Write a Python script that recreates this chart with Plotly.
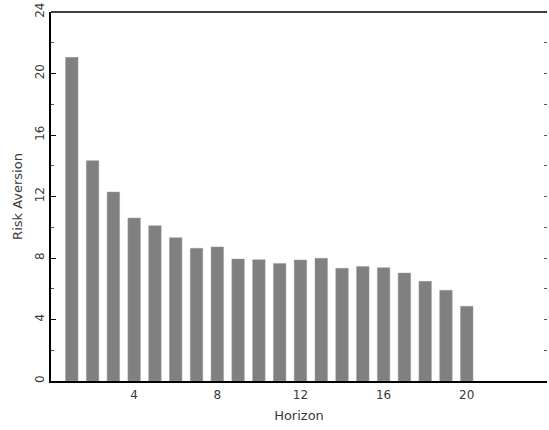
import plotly.graph_objects as go

horizon = list(range(1, 21))
risk_aversion = [21.05, 14.33, 12.29, 10.6, 10.1, 9.32, 8.63, 8.72, 7.93, 7.89,
                 7.65, 7.87, 7.98, 7.33, 7.44, 7.37, 7.02, 6.48, 5.90, 4.86]
x_ticks = [4, 8, 12, 16, 20]
y_ticks = [0, 4, 8, 12, 16, 20, 24]

font = dict(family="DejaVu Sans", size=12, color="#3a3a3a")

fig = go.Figure()
fig.add_trace(go.Bar(x=horizon, y=risk_aversion, width=0.6,
                     marker=dict(color="#808080", line=dict(color="#9a9a9a", width=0.5)),
                     showlegend=False))
fig.add_trace(go.Scatter(x=[0], y=[0], yaxis="y2", mode="markers",
                         marker=dict(opacity=0), showlegend=False, hoverinfo="skip"))

fig.update_layout(
    width=549, height=430,
    margin=dict(l=51, r=2, t=12, b=49),
    plot_bgcolor="white", paper_bgcolor="white",
    font=font,
    xaxis=dict(range=[0, 23.86], tickvals=x_ticks, ticks="", showline=True,
               linecolor="black", linewidth=1.5, showgrid=False, zeroline=False,
               automargin=False, ticklabelstandoff=2,
               title=dict(text="Horizon", standoff=10, font=dict(size=13))),
    yaxis=dict(range=[0, 24], tickvals=y_ticks, ticks="inside", ticklen=5,
               tickcolor="black", showline=True, linecolor="black", linewidth=1.5,
               showgrid=False, zeroline=False, tickangle=-90, automargin=False,
               minor=dict(dtick=2, ticks="inside", ticklen=3, tickcolor="#555"),
               title=dict(text="Risk Aversion", standoff=8, font=dict(size=13))),
    yaxis2=dict(range=[0, 24], overlaying="y", side="right", dtick=2,
                ticks="inside", ticklen=3, tickcolor="#555", showticklabels=False,
                showline=False, showgrid=False, zeroline=False, automargin=False),
)
fig.add_shape(type="line", xref="paper", yref="paper", x0=0, x1=1, y0=1, y1=1,
              line=dict(color="black", width=1.5))

fig.write_html("out.html", config={"displayModeBar": False},
               post_script="document.body.style.margin='0';document.body.style.overflow='hidden';")
